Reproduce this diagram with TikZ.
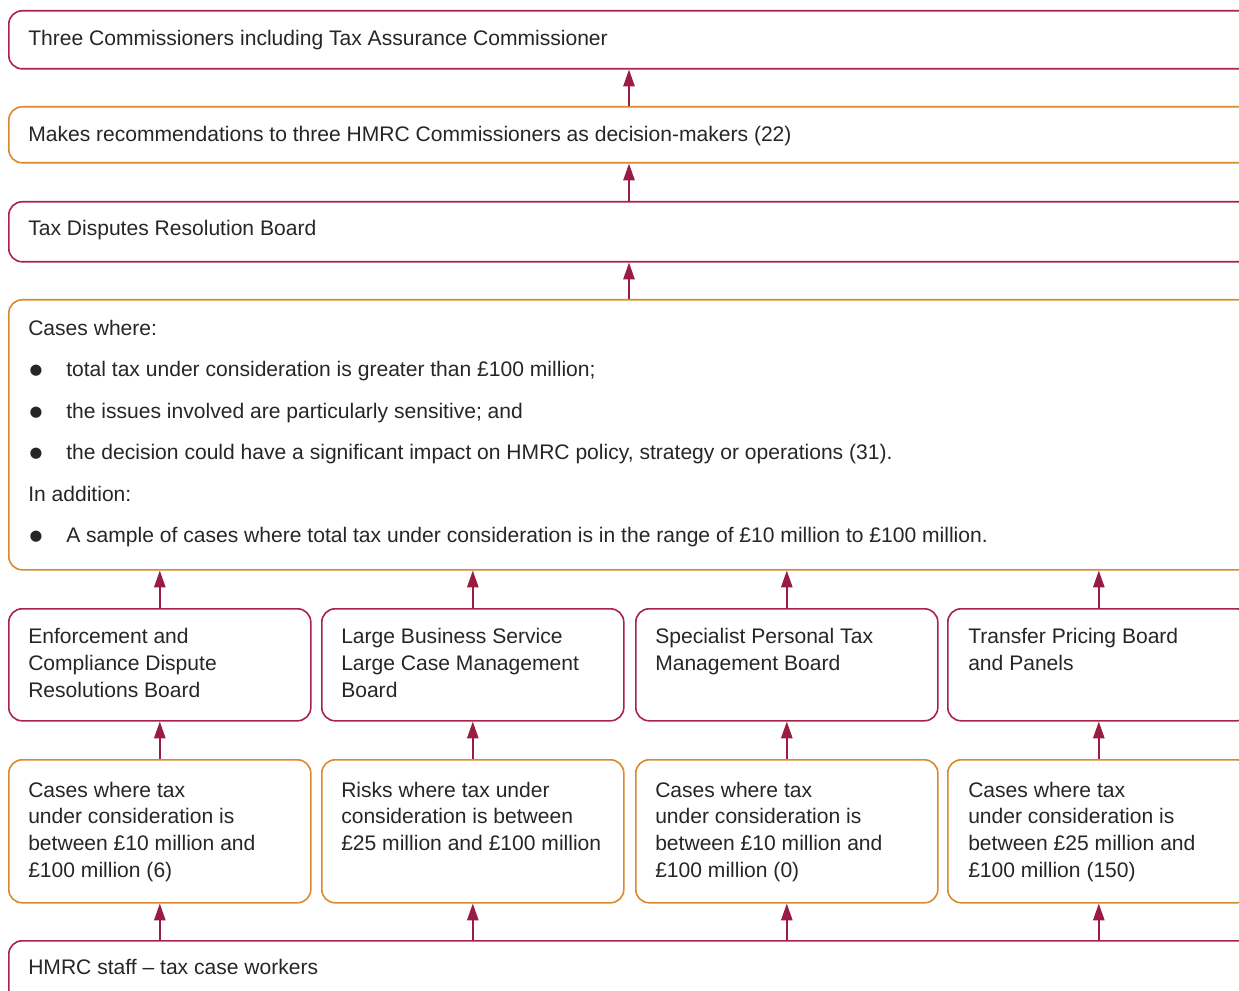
\documentclass[tikz,border=0pt]{standalone}
\usepackage{fontspec}
\setmainfont{Liberation Sans}
\newfontfamily\symfont{DejaVu Sans}
\usetikzlibrary{arrows.meta}
\definecolor{crim}{HTML}{A8234A}
\definecolor{ochre}{HTML}{D98A2E}
\definecolor{arrowred}{HTML}{9B1C42}
\definecolor{ink}{HTML}{262626}
% fixed first-line height so text nodes can be placed by their baseline
\newcommand\firstline{\rule{0pt}{14pt}}
\newcommand\blt{\makebox[28.5pt][l]{\hspace{1pt}\raisebox{1.6pt}{\symfont\fontsize{11pt}{11pt}\selectfont ●}}}
\begin{document}
\begin{tikzpicture}[x=0.75pt,y=-0.75pt,
  box/.style={draw, line width=1.2pt, rounded corners=10pt, anchor=north west,
              inner sep=0pt, minimum width=975pt},
  redbox/.style={box, draw=crim},
  orbox/.style={box, draw=ochre},
  rowbox/.style={minimum width=226.5pt},
  label/.style={anchor=north west, inner sep=0pt, align=left, text=ink,
                font=\fontsize{15.8pt}{20pt}\selectfont},
  up/.style={draw=arrowred, line width=1.1pt,
             -{Triangle[length=12.5pt,width=8.5pt]}}
]
\useasboundingbox (0,0) rectangle (1239,991);
\clip (0,0) rectangle (1239,991);

% full-width stages
\node[redbox, minimum height=43.5pt] (b1) at (8,10) {};
\node[orbox,  minimum height=42pt]   (b2) at (8,106) {};
\node[redbox, minimum height=45pt]   (b3) at (8,201) {};
\node[orbox,  minimum height=202.5pt] (b4) at (8,299) {};

% boards
\node[redbox, rowbox, minimum height=84pt] (e1) at (8,608) {};
\node[redbox, rowbox, minimum height=84pt] (e2) at (321,608) {};
\node[redbox, rowbox, minimum height=84pt] (e3) at (635,608) {};
\node[redbox, rowbox, minimum height=84pt] (e4) at (947,608) {};

% case thresholds
\node[orbox, rowbox, minimum height=107.25pt] (c1) at (8,759) {};
\node[orbox, rowbox, minimum height=107.25pt] (c2) at (321,759) {};
\node[orbox, rowbox, minimum height=107.25pt] (c3) at (635,759) {};
\node[orbox, rowbox, minimum height=107.25pt] (c4) at (947,759) {};

% staff
\node[redbox, minimum height=60pt] (st) at (8,940) {};

% texts
\node[label] (t1) at (28,26.8) {\firstline Three Commissioners including Tax Assurance Commissioner};
\node[label] (t2) at (28,122.8) {\firstline Makes recommendations to three HMRC Commissioners as decision-makers (22)};
\node[label] (t3) at (28,216.8) {\firstline Tax Disputes Resolution Board};
\node[label, font=\fontsize{15.8pt}{31.1pt}\selectfont] (t4) at (28,316.3) {\firstline Cases where:\\
\blt total tax under consideration is greater than £100 million;\\
\blt the issues involved are particularly sensitive; and\\
\blt the decision could have a significant impact on HMRC policy, strategy or operations (31).\\
In addition:\\
\blt A sample of cases where total tax under consideration is in the range of £10 million to £100 million.};

\node[label] (te1) at (28,624.8)  {\firstline Enforcement and\\Compliance Dispute\\Resolutions Board};
\node[label] (te2) at (341,624.8) {\firstline Large Business Service\\Large Case Management\\Board};
\node[label] (te3) at (655,624.8) {\firstline Specialist Personal Tax\\Management Board};
\node[label] (te4) at (968,624.8) {\firstline Transfer Pricing Board\\and Panels};

\node[label] (tc1) at (28,778.3)  {\firstline Cases where tax\\under consideration is\\between £10 million and\\£100 million (6)};
\node[label] (tc2) at (341,778.3) {\firstline Risks where tax under\\consideration is between\\£25 million and £100 million};
\node[label] (tc3) at (655,778.3) {\firstline Cases where tax\\under consideration is\\between £10 million and\\£100 million (0)};
\node[label] (tc4) at (968,778.3) {\firstline Cases where tax\\under consideration is\\between £25 million and\\£100 million (150)};

\node[label] (tst) at (28,955.8) {\firstline HMRC staff – tax case workers};

% connectors
\coordinate (mid) at (629,0);
\draw[up] (b2.north -| mid) -- (b1.south -| mid);
\draw[up] (b3.north -| mid) -- (b2.south -| mid);
\draw[up] (b4.north -| mid) -- (b3.south -| mid);
\foreach \k in {1,2,3,4}{
  \draw[up] (e\k.north) -- (e\k.north |- b4.south);
  \draw[up] (c\k.north) -- (e\k.south);
  \draw[up] (st.north -| c\k.south) -- (c\k.south);
}
\end{tikzpicture}
\end{document}
